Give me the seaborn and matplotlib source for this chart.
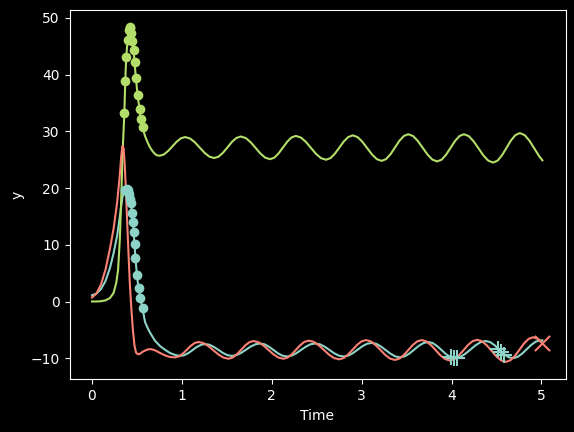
import matplotlib
matplotlib.use("Agg")
import matplotlib.pyplot as plt
import seaborn as sns

# values
teal_t = [0.0, 0.05, 0.1, 0.15, 0.2, 0.24, 0.28, 0.31, 0.34, 0.372, 0.385, 0.398, 0.41,
          0.422, 0.433, 0.444, 0.456, 0.462, 0.473, 0.484, 0.5, 0.518, 0.537, 0.562,
          0.59, 0.62, 0.65, 0.7, 0.76, 0.82, 0.87, 0.93, 0.981,
          1.027, 1.074, 1.12, 1.166, 1.213, 1.259, 1.309, 1.358, 1.408, 1.457, 1.507, 1.556,
          1.608, 1.661, 1.713, 1.765, 1.818, 1.87, 1.92, 1.969, 2.019, 2.068, 2.118, 2.167,
          2.22, 2.272, 2.325, 2.378, 2.43, 2.483, 2.536, 2.589, 2.642, 2.694, 2.747, 2.8,
          2.852, 2.903, 2.955, 3.007, 3.058, 3.11, 3.163, 3.215, 3.268, 3.321, 3.373, 3.426,
          3.478, 3.531, 3.583, 3.635, 3.688, 3.74, 3.79, 3.839, 3.889, 3.938, 3.988, 4.037,
          4.094, 4.151, 4.209, 4.266, 4.323, 4.38, 4.43, 4.48, 4.53, 4.58, 4.63, 4.68,
          4.732, 4.783, 4.835, 4.887, 4.938, 4.99, 5.01]
teal_y = [1.1, 1.4, 2.2, 3.6, 5.9, 8.5, 11.6, 15.0, 18.5, 19.6, 19.9, 19.6, 18.9,
          18.1, 17.3, 15.6, 14.1, 12.3, 10.1, 7.6, 4.7, 2.3, 0.56, -1.2,
          -3.6, -4.7, -5.6, -6.9, -7.9, -8.6, -9.1, -9.45, -9.6,
          -9.46, -9.08, -8.55, -8.03, -7.64, -7.5, -7.64, -8.03, -8.55, -9.08, -9.46, -9.6,
          -9.45, -9.05, -8.5, -7.95, -7.55, -7.4, -7.55, -7.98, -8.55, -9.13, -9.55, -9.7,
          -9.55, -9.13, -8.55, -7.98, -7.55, -7.4, -7.55, -7.98, -8.55, -9.13, -9.55, -9.7,
          -9.54, -9.1, -8.5, -7.9, -7.46, -7.3, -7.47, -7.94, -8.58, -9.21, -9.68, -9.85,
          -9.67, -9.17, -8.5, -7.82, -7.32, -7.14, -7.33, -7.86, -8.57, -9.29, -9.81, -10.0,
          -9.8, -9.24, -8.49, -7.73, -7.17, -6.97, -7.17, -7.73, -8.49, -9.24, -9.8, -10.0,
          -9.79, -9.21, -8.43, -7.64, -7.06, -6.85, -6.87]

salmon_t = [0.0, 0.05, 0.1, 0.15, 0.2, 0.24, 0.28, 0.305, 0.325, 0.338, 0.352, 0.365,
            0.38, 0.4, 0.42, 0.437, 0.455, 0.473, 0.49, 0.51, 0.53, 0.57, 0.62, 0.656,
            0.7, 0.76, 0.82, 0.87, 0.926,
            0.969, 1.012, 1.056, 1.099, 1.142, 1.185, 1.241, 1.296, 1.352, 1.408, 1.463, 1.519,
            1.565, 1.611, 1.658, 1.704, 1.75, 1.796, 1.852, 1.907, 1.963, 2.019, 2.074, 2.13,
            2.177, 2.223, 2.27, 2.317, 2.363, 2.41, 2.467, 2.523, 2.58, 2.637, 2.693, 2.75,
            2.8, 2.849, 2.899, 2.949, 2.998, 3.048, 3.102, 3.155, 3.209, 3.263, 3.316, 3.37,
            3.42, 3.469, 3.519, 3.568, 3.618, 3.667, 3.719, 3.771, 3.824, 3.876, 3.928, 3.98,
            4.031, 4.082, 4.133, 4.183, 4.234, 4.285, 4.338, 4.392, 4.445, 4.498, 4.552, 4.605,
            4.655, 4.706, 4.756, 4.806, 4.857, 4.907, 4.96, 5.01]
salmon_y = [0.7, 1.4, 3.0, 5.6, 9.3, 12.8, 17.5, 21.5, 25.5, 27.4, 27.0, 24.0,
            18.5, 10.8, 3.5, -1.0, -5.0, -7.8, -9.0, -9.3, -9.25, -8.8, -8.45, -8.4,
            -8.6, -9.1, -9.55, -9.8, -9.85,
            -9.67, -9.17, -8.5, -7.82, -7.32, -7.14, -7.34, -7.88, -8.62, -9.36, -9.9, -10.1,
            -9.89, -9.32, -8.54, -7.75, -7.18, -6.97, -7.18, -7.75, -8.54, -9.32, -9.89, -10.1,
            -9.89, -9.3, -8.5, -7.7, -7.11, -6.9, -7.12, -7.73, -8.55, -9.38, -9.98, -10.2,
            -9.97, -9.35, -8.5, -7.65, -7.03, -6.8, -7.03, -7.68, -8.55, -9.43, -10.07, -10.3,
            -10.07, -9.43, -8.55, -7.68, -7.03, -6.8, -7.04, -7.7, -8.6, -9.5, -10.16, -10.4,
            -10.16, -9.49, -8.58, -7.66, -6.99, -6.75, -7.01, -7.73, -8.7, -9.68, -10.39, -10.65,
            -10.36, -9.56, -8.48, -7.39, -6.59, -6.3, -6.6, -7.35]

green_t = [0.0, 0.05, 0.1, 0.15, 0.2, 0.24, 0.27, 0.29, 0.31, 0.325, 0.34, 0.36, 0.37,
           0.381, 0.396, 0.41, 0.42, 0.428, 0.437, 0.446, 0.462, 0.473, 0.489, 0.507,
           0.529, 0.54, 0.562, 0.59, 0.62, 0.645, 0.67, 0.69, 0.71, 0.73, 0.751,
           0.799, 0.846, 0.894, 0.942, 0.989, 1.037, 1.091, 1.144, 1.198, 1.252, 1.305, 1.359,
           1.409, 1.458, 1.508, 1.557, 1.607, 1.656, 1.71, 1.764, 1.819, 1.873, 1.927, 1.981,
           2.029, 2.076, 2.124, 2.172, 2.219, 2.267, 2.323, 2.379, 2.435, 2.491, 2.547, 2.603,
           2.653, 2.702, 2.752, 2.801, 2.851, 2.9, 2.954, 3.007, 3.061, 3.115, 3.168, 3.222,
           3.271, 3.321, 3.37, 3.419, 3.469, 3.518, 3.572, 3.625, 3.679, 3.733, 3.786, 3.84,
           3.89, 3.939, 3.989, 4.038, 4.088, 4.137, 4.191, 4.245, 4.3, 4.354, 4.408, 4.462,
           4.512, 4.561, 4.611, 4.66, 4.71, 4.759, 4.813, 4.866, 4.92, 4.973, 5.01]
green_y = [0.0, 0.0, 0.05, 0.2, 0.6, 1.5, 3.3, 5.5, 11.0, 18.0, 26.0, 33.2, 38.8,
           43.1, 46.1, 47.8, 48.4, 48.3, 47.3, 46.0, 44.3, 42.2, 39.4, 36.4,
           33.9, 32.2, 30.7, 29.2, 28.0, 27.2, 26.6, 26.2, 25.9, 25.75, 25.7,
           25.92, 26.53, 27.35, 28.18, 28.78, 29.0, 28.75, 28.08, 27.15, 26.23, 25.55, 25.3,
           25.55, 26.25, 27.2, 28.15, 28.85, 29.1, 28.83, 28.1, 27.1, 26.1, 25.37, 25.1,
           25.37, 26.13, 27.15, 28.18, 28.93, 29.2, 28.92, 28.15, 27.1, 26.05, 25.28, 25.0,
           25.29, 26.08, 27.15, 28.23, 29.01, 29.3, 29.0, 28.18, 27.05, 25.93, 25.1, 24.8,
           25.11, 25.98, 27.15, 28.33, 29.19, 29.5, 29.18, 28.3, 27.1, 25.9, 25.02, 24.7,
           25.02, 25.9, 27.1, 28.3, 29.18, 29.5, 29.17, 28.25, 27.0, 25.75, 24.84, 24.5,
           24.85, 25.8, 27.1, 28.4, 29.35, 29.7, 29.34, 28.35, 27.0, 25.65, 24.9]

# marked points
green_dot_t = [0.36, 0.37, 0.381, 0.396, 0.41, 0.42, 0.428, 0.437, 0.446, 0.462,
               0.473, 0.489, 0.507, 0.529, 0.54, 0.562]
green_dot_y = [33.2, 38.8, 43.1, 46.1, 47.8, 48.4, 48.3, 47.3, 46.0, 44.3,
               42.2, 39.4, 36.4, 33.9, 32.2, 30.7]
teal_dot_t = [0.372, 0.385, 0.398, 0.41, 0.422, 0.433, 0.444, 0.456, 0.462, 0.473,
              0.484, 0.5, 0.518, 0.537, 0.562]
teal_dot_y = [19.6, 19.9, 19.6, 18.9, 18.1, 17.3, 15.6, 14.1, 12.3, 10.1,
              7.6, 4.7, 2.3, 0.56, -1.2]
teal_plus_t = [3.99, 4.03, 4.065, 4.515, 4.55, 4.585]
teal_plus_y = [-9.75, -9.95, -9.95, -8.3, -8.85, -9.35]
salmon_x_t = [5.01]
salmon_x_y = [-7.35]

TEAL = "#8dd3c7"
SALMON = "#fa8174"
GREEN = "#b3de69"

plt.style.use("dark_background")
fig = plt.figure(figsize=(5.74, 4.32), dpi=100)
ax = fig.add_axes([69.5 / 574, (432 - 379.3) / 432, 496 / 574, 369.6 / 432])

sns.lineplot(x=teal_t, y=teal_y, color=TEAL, sort=False, linewidth=1.5, ax=ax)
sns.lineplot(x=green_t, y=green_y, color=GREEN, sort=False, linewidth=1.5, ax=ax)
sns.lineplot(x=salmon_t, y=salmon_y, color=SALMON, sort=False, linewidth=1.5, ax=ax)

sns.scatterplot(x=green_dot_t, y=green_dot_y, color=GREEN, marker="o", s=49,
                linewidth=0, ax=ax, zorder=3)
sns.scatterplot(x=teal_dot_t, y=teal_dot_y, color=TEAL, marker="o", s=49,
                linewidth=0, ax=ax, zorder=3)
sns.scatterplot(x=teal_plus_t, y=teal_plus_y, color=TEAL, marker="+", s=120,
                linewidth=1.5, ax=ax, zorder=3)
sns.scatterplot(x=salmon_x_t, y=salmon_x_y, color=SALMON, marker="x", s=120,
                linewidth=1.5, ax=ax, zorder=3)

ax.set_xlim(-0.25, 5.267)
ax.set_ylim(-13.72, 51.46)
ax.set_xlabel("Time")
ax.set_ylabel("y")

fig.savefig("out.png", dpi=100)
